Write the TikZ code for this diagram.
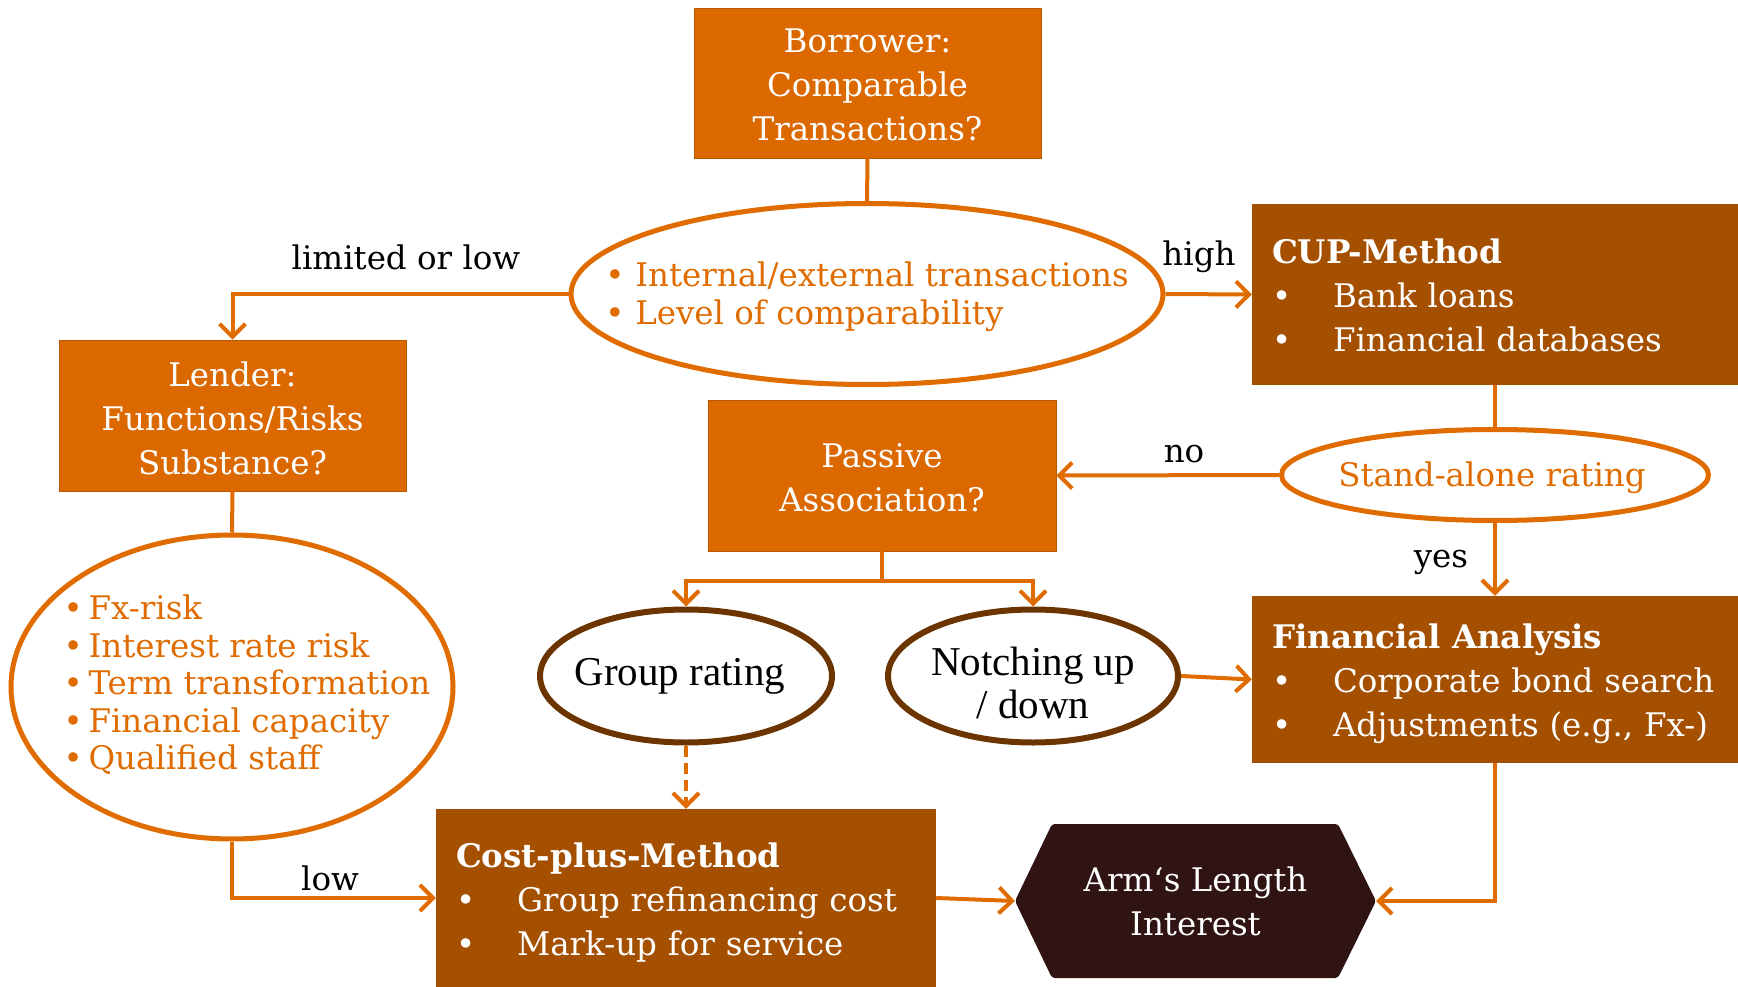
\documentclass[tikz,border=0pt]{standalone}
\usepackage{fontspec}
\setmainfont{DejaVu Serif}
\newfontfamily\narrowserif{Liberation Serif}
\usetikzlibrary{arrows.meta,shapes.geometric}
\definecolor{pwcorange}{RGB}{219,105,0}
\definecolor{pwcbrown}{RGB}{164,80,0}
\definecolor{pwcdark}{RGB}{48,20,19}
\definecolor{ringbrown}{RGB}{108,53,0}
\definecolor{lineorange}{RGB}{224,108,0}
\newcommand{\bul}[1]{\makebox[#1][l]{\textbullet}}
\begin{document}
\begin{tikzpicture}[x=1pt,y=-1pt,
  txt/.style={font=\fontsize{32.5}{44}\selectfont},
  qbox/.style={rectangle, fill=pwcorange, draw=pwcorange!85!black, line width=0.8pt,
    inner sep=0pt},
  qtext/.style={text=white, align=center, inner sep=0pt, txt},
  mbox/.style={rectangle, fill=pwcbrown, inner sep=0pt},
  mtext/.style={txt, text=white, align=left, inner sep=0pt},
  oell/.style={ellipse, draw=lineorange, line width=5pt, fill=white, inner sep=0pt},
  bell/.style={ellipse, draw=ringbrown, line width=6pt, fill=white, inner sep=0pt},
  otext/.style={text=lineorange, inner sep=0pt},
  btext/.style={inner sep=0pt, align=center, font=\narrowserif\fontsize{41}{43}\selectfont},
  conn/.style={draw=lineorange, line width=4pt},
  arr/.style={conn, -{Straight Barb[length=13pt,width=26pt]}},
  lbl/.style={txt, text=black, inner sep=0pt},
]
\useasboundingbox (0,0) rectangle (1738,987);

% question boxes
\node[qbox, minimum width=347, minimum height=150] (borrower) at (867.5,83) {};
\node[qtext] (borrowertext) at (867.5,85) {Borrower:\\Comparable\\Transactions?};
\node[qbox, minimum width=347, minimum height=151] (lender) at (232.5,415.5) {};
\node[qtext] (lendertext) at (232.5,418.5) {Lender:\\Functions/Risks\\Substance?};
\node[qbox, minimum width=348, minimum height=151] (passive) at (882,475.5) {};
\node[qtext] (passivetext) at (882,477.5) {Passive\\Association?};

% method boxes
\node[mbox, minimum width=486, minimum height=181] (cup) at (1495,294.5) {};
\node[mtext, text width=446] (cuptext) at (1495,295.5)
  {\textbf{CUP-Method}\\\bul{61pt}Bank loans\\\bul{61pt}Financial databases};
\node[mbox, minimum width=486, minimum height=167] (fa) at (1495,679.5) {};
\node[mtext, text width=446] (fatext) at (1495,684)
  {\textbf{Financial Analysis}\\\bul{61pt}Corporate bond search\\\bul{61pt}Adjustments (e.g., Fx-)};
\node[mbox, minimum width=500, minimum height=178] (cost) at (686,898) {};
\node[mtext, text width=460] (costtext) at (686,903)
  {\textbf{Cost-plus-Method}\\\bul{61pt}Group refinancing cost\\\bul{61pt}Mark-up for service};

% criteria ellipses
\node[oell, minimum width=592, minimum height=181] (bigell) at (867,294) {};
\node[otext, align=left, font=\fontsize{32.5}{38}\selectfont] (bigtext) at (867,297)
  {\bul{30pt}Internal/external transactions\\\bul{30pt}Level of comparability};
\node[oell, minimum width=442, minimum height=304] (leftell) at (232,687) {};
\node[otext, align=left, font=\fontsize{32.5}{37.6}\selectfont] (risks) at (247,685)
  {\bul{25pt}Fx-risk\\\bul{25pt}Interest rate risk\\\bul{25pt}Term transformation\\
   \bul{25pt}Financial capacity\\\bul{25pt}Qualified staff};
\node[oell, minimum width=427, minimum height=91] (sa) at (1495,475) {};
\node[otext, txt] (satext) at (1492,478) {Stand-alone rating};

% rating ellipses
\node[bell, minimum width=292, minimum height=133] (group) at (686,676) {};
\node[btext] (grouptext) at (680,676) {Group rating};
\node[bell, minimum width=290, minimum height=133] (notch) at (1033,676) {};
\node[btext] (notchtext) at (1033,683) {Notching up\\/ down};

% result hexagon
\fill[pwcdark, rounded corners=3pt] (1015,901) -- (1052,824) -- (1338,824)
  -- (1376,901) -- (1338,978) -- (1052,978) -- cycle;
\node[minimum width=361, minimum height=154, inner sep=0pt, text=white, align=center,
  txt] (hex) at (1195.5,901) {Arm‘s Length\\Interest};

% connectors
\draw[conn] (borrower.south) -- (bigell.north);
\draw[arr] (bigell.east) -- (cup.west);
\draw[arr] (bigell.west) -| (lender.north);
\draw[conn] (lender.south) -- (leftell.north);
\draw[arr] (leftell.south) |- (cost.west);
\draw[conn] (cup.south) -- (sa.north);
\draw[arr] (sa.west) -- (passive.east);
\draw[arr] (sa.south) -- (fa.north);
\coordinate (split) at (882,581);
\draw[conn] (passive.south) -- (split);
\draw[arr] (split) -| (group.north);
\draw[arr] (split) -| (notch.north);
\draw[arr] (notch.east) -- (fa.west);
\draw[arr, dash pattern=on 11pt off 6pt] (group.south) -- (cost.north);
\draw[arr] (cost.east) -- (hex.west);
\draw[arr] (fa.south) |- (hex.east);

% branch labels
\node[lbl] (lbllimited) at (406,257) {limited or low};
\node[lbl] (lblhigh) at (1199,257) {high};
\node[lbl] (lblno) at (1184,454) {no};
\node[lbl] (lblyes) at (1441,562) {yes};
\node[lbl] (lbllow) at (330,878) {low};
\end{tikzpicture}
\end{document}
